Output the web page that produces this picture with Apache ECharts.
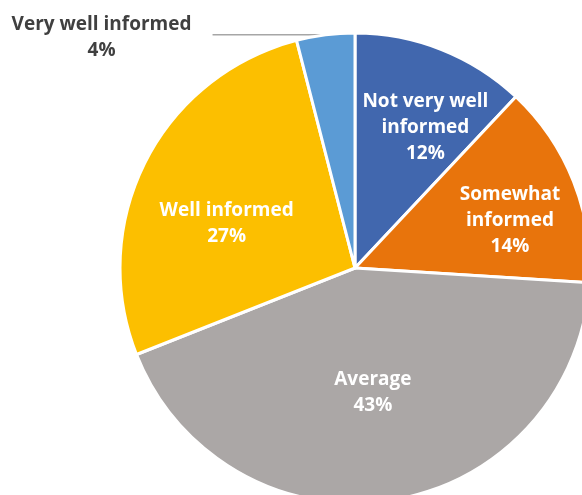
<!DOCTYPE html>
<html>
<head>
<meta charset="utf-8">
<script src="https://cdn.jsdelivr.net/npm/echarts@6/dist/echarts.min.js"></script>
<style>
  html, body { margin: 0; padding: 0; background: #ffffff; }
  #chart { width: 582px; height: 495px; }
</style>
</head>
<body>
<div id="chart"></div>
<script>
// Survey answers: how well informed respondents feel
const categories = ['Not very well informed', 'Somewhat informed', 'Average', 'Well informed', 'Very well informed'];
const labelLines = [['Not very well', 'informed'], ['Somewhat', 'informed'], ['Average'], ['Well informed'], ['Very well informed']];
const shares = [12, 14, 43, 27, 4];
const colors = ['#4167AE', '#E8740C', '#ABA7A6', '#FCBF00', '#5B9BD5'];

// nudges for the inner labels (px), keyed by slice index
const labelShift = [[26, -28], [43, -3], [-1, 6], [-21, 10], [0, 3]];

const FONT = 'Open Sans';
const FONT_SIZE = 19;
const LINE_H = 26;

const chart = echarts.init(document.getElementById('chart'));

const data = categories.map((name, i) => {
  const item = {
    name: name,
    value: shares[i],
    itemStyle: { color: colors[i] }
  };
  if (i === 4) {
    item.label = {
      position: 'outside',
      color: '#404040',
      formatter: () => '{a|' + labelLines[i][0] + '}\n{a|' + shares[i] + '%}',
      rich: {
        a: { width: 184, align: 'center', fontSize: FONT_SIZE, fontWeight: 'bold', color: '#404040', lineHeight: LINE_H, fontFamily: FONT }
      },
      distanceToLabelLine: 19
    };
    item.labelLine = {
      show: true,
      length: 0,
      length2: 113,
      lineStyle: { color: '#A6A6A6', width: 1.5 }
    };
  }
  return item;
});

chart.setOption({
  animation: false,
  series: [{
    type: 'pie',
    center: [355, 268],
    radius: [0, 235],
    startAngle: 90,
    clockwise: true,
    avoidLabelOverlap: false,
    itemStyle: { borderColor: '#ffffff', borderWidth: 3 },
    label: {
      show: true,
      position: 'inside',
      color: '#ffffff',
      fontSize: FONT_SIZE,
      fontWeight: 'bold',
      fontFamily: FONT,
      lineHeight: LINE_H,
      align: 'center',
      formatter: p => labelLines[p.dataIndex].concat([shares[p.dataIndex] + '%']).join('\n')
    },
    labelLine: { show: false },
    labelLayout: p => ({ dx: labelShift[p.dataIndex][0], dy: labelShift[p.dataIndex][1] }),
    data: data
  }]
});
</script>
</body>
</html>
